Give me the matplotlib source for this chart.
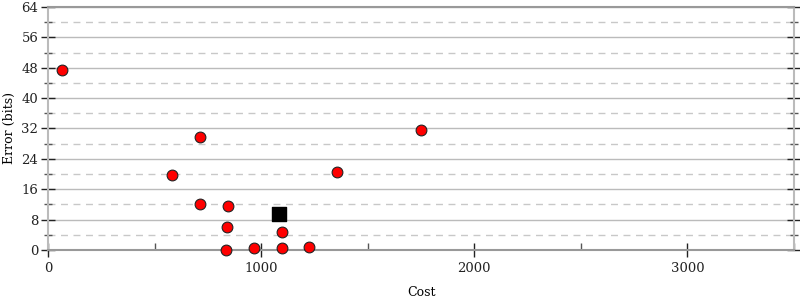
import matplotlib.pyplot as plt
from matplotlib.ticker import MultipleLocator

# points (cost, error bits)
cost = [64, 711, 583, 711, 844, 841, 833, 967, 1096, 1096, 1224, 1358, 1750]
error = [47.5, 29.8, 19.8, 12.1, 11.6, 6.0, 0.1, 0.5, 4.8, 0.6, 0.8, 20.5, 31.6]
# highlighted point
sq_cost = [1084]
sq_error = [9.6]

plt.rcParams['font.family'] = 'DejaVu Serif'
plt.rcParams['font.size'] = 9

fig = plt.figure(figsize=(8, 3), dpi=100)
ax = fig.add_axes([0.06, 0.1667, 0.9325, 0.81])

ax.set_xlim(0, 3500)
ax.set_ylim(0, 64)
ax.xaxis.set_major_locator(MultipleLocator(1000))
ax.xaxis.set_minor_locator(MultipleLocator(500))
ax.yaxis.set_major_locator(MultipleLocator(8))
ax.yaxis.set_minor_locator(MultipleLocator(4))

ax.grid(True, which='major', axis='y', color='#bbbbbb', lw=1, ls='-')
ax.grid(True, which='minor', axis='y', color='#c8c8c8', lw=1, ls=(0, (5, 4)))
ax.set_axisbelow(True)

for s in ax.spines.values():
    s.set_color('#999999')
    s.set_linewidth(1.5)
ax.spines['left'].set_color('#bbbbbb')
ax.spines['right'].set_color('#bbbbbb')

ax.tick_params(which='major', axis='y', direction='inout', length=10, width=1, color='black', left=True, right=True)
ax.tick_params(which='minor', axis='y', direction='inout', length=6, width=1, color='#555555', left=True, right=True)
ax.tick_params(which='major', axis='x', direction='inout', length=10, width=1, color='black')
ax.tick_params(which='minor', axis='x', direction='in', length=5, width=1, color='#555555')
ax.tick_params(axis='both', labelsize=9.5, colors='#222222')
ax.tick_params(axis='y', pad=2)

ax.scatter(cost, error, s=60, c='#ff0000', edgecolors='#222222', linewidths=0.8, zorder=3, clip_on=False)
ax.scatter(sq_cost, sq_error, s=90, c='black', marker='s', zorder=3)

ax.set_xlabel('Cost', labelpad=8)
ax.set_ylabel('Error (bits)', labelpad=4)

fig.savefig('out.png', dpi=100)
